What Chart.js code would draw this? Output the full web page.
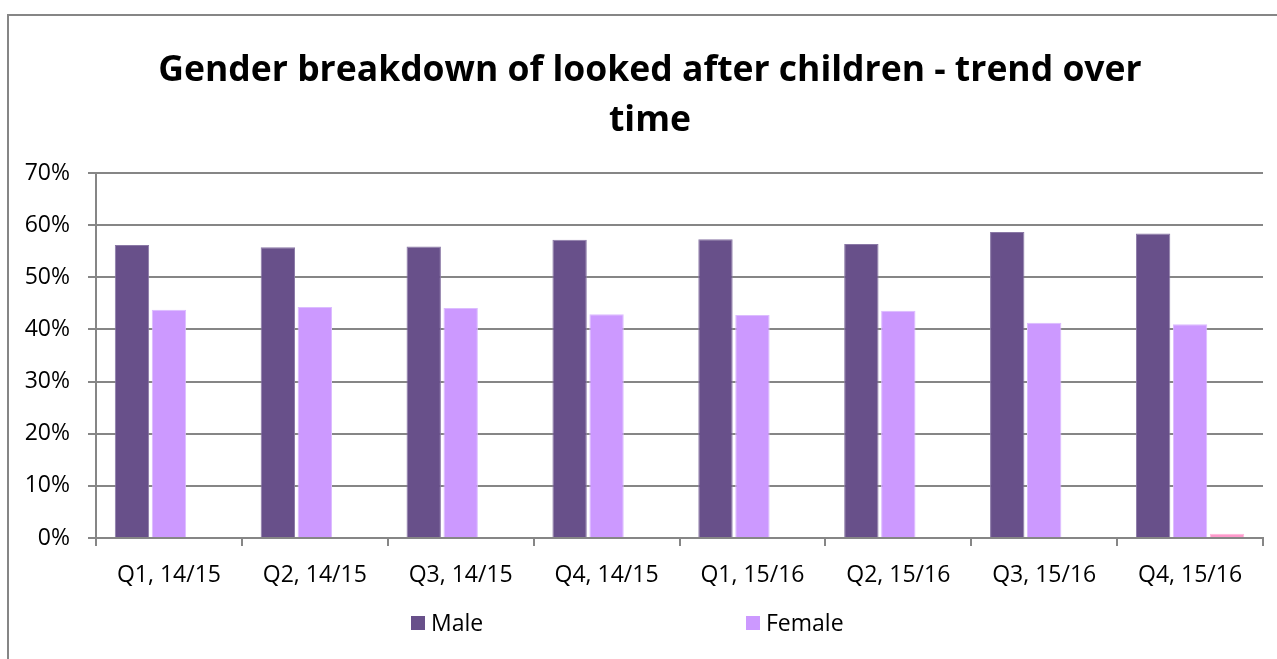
<!DOCTYPE html>
<html>
<head>
<meta charset="utf-8">
<script src="https://cdn.jsdelivr.net/npm/chart.js@4/dist/chart.umd.min.js"></script>
<style>
  html, body { margin: 0; padding: 0; background: #fff; }
  body { width: 1277px; height: 659px; position: relative; overflow: hidden; font-family: "Open Sans", sans-serif; }
  #frame { position: absolute; left: 7px; top: 14px; width: 1300px; height: 700px; border: 2px solid #868686; box-sizing: border-box; }
  #wrap { position: absolute; left: 0; top: 0; width: 1277px; height: 659px; }
  .legend-item { position: absolute; top: 607px; font-size: 23px; color: #000; line-height: 30px; white-space: nowrap; }
  .legend-item span.box { display: inline-block; width: 14px; height: 14px; margin-right: 6px; vertical-align: 1px; }
</style>
</head>
<body>
<div id="frame"></div>
<div id="wrap"><canvas id="genderChart" width="1277" height="659"></canvas></div>
<div id="legend"></div>
<script>
    const categories = ['Q1, 14/15', 'Q2, 14/15', 'Q3, 14/15', 'Q4, 14/15', 'Q1, 15/16', 'Q2, 15/16', 'Q3, 15/16', 'Q4, 15/16'];
    const maleValues = [56.2, 55.8, 55.9, 57.2, 57.3, 56.4, 58.7, 58.4];
    const femaleValues = [43.8, 44.3, 44.1, 42.9, 42.8, 43.6, 41.3, 41.0];
    const otherValues = [null, null, null, null, null, null, null, 0.8];
    const yTicks = [0, 10, 20, 30, 40, 50, 60, 70];

    const axisGrey = '#868686';
    const font = 'Open Sans';

    const ctx = document.getElementById('genderChart').getContext('2d');

    const datasets = [
        { label: 'Male', data: maleValues, backgroundColor: '#68508a', borderColor: '#8a78a6', borderWidth: 1 },
        { label: 'Female', data: femaleValues, backgroundColor: '#cc99ff', borderColor: '#dcbcff', borderWidth: 1 },
        { label: '', data: otherValues, backgroundColor: '#ff99cc', borderColor: '#ffb8dc', borderWidth: 1 }
    ];

    // the frame is wider than the window, so nudge the title to its centre
    const titleShift = {
        id: 'titleShift',
        afterLayout(chart) {
            if (chart.titleBlock) chart.titleBlock.left += 37;
        }
    };

    new Chart(ctx, {
        type: 'bar',
        data: { labels: categories, datasets: datasets },
        plugins: [titleShift],
        options: {
            responsive: false,
            animation: false,
            layout: { padding: { top: 46, right: 14, left: 0, bottom: 0 } },
            datasets: { bar: { categoryPercentage: 0.76, barPercentage: 0.93 } },
            plugins: {
                legend: { display: false },
                tooltip: { enabled: false },
                title: {
                    display: true,
                    text: ['Gender breakdown of looked after children - trend over', 'time'],
                    color: '#000',
                    font: { family: font, size: 35.5, weight: 'bold', lineHeight: 1.41 },
                    padding: { top: 0, bottom: 27 }
                }
            },
            scales: {
                x: {
                    grid: { drawOnChartArea: false, offset: true, color: axisGrey, lineWidth: 2, tickLength: 8 },
                    border: { color: axisGrey, width: 2 },
                    ticks: { color: '#000', font: { family: font, size: 23 }, padding: 16, maxRotation: 0 },
                    afterFit: (scale) => { scale.height = 121; }
                },
                y: {
                    min: 0,
                    max: 70,
                    afterBuildTicks: (scale) => { scale.ticks = yTicks.map(v => ({ value: v })); },
                    grid: { color: axisGrey, lineWidth: 2, tickLength: 8 },
                    border: { color: axisGrey, width: 2 },
                    ticks: { color: '#000', font: { family: font, size: 23 }, padding: 18, callback: v => v + '%' },
                    afterFit: (scale) => { scale.width = 96; }
                }
            }
        }
    });

    // legend laid out like the original, spread wide under the axis
    const legendPos = [411, 746];
    const legendEl = document.getElementById('legend');
    datasets.slice(0, 2).forEach((ds, i) => {
        const item = document.createElement('div');
        item.className = 'legend-item';
        item.style.left = legendPos[i] + 'px';
        item.innerHTML = '<span class="box" style="background:' + ds.backgroundColor + '"></span>' + ds.label;
        legendEl.appendChild(item);
    });
</script>
</body>
</html>
